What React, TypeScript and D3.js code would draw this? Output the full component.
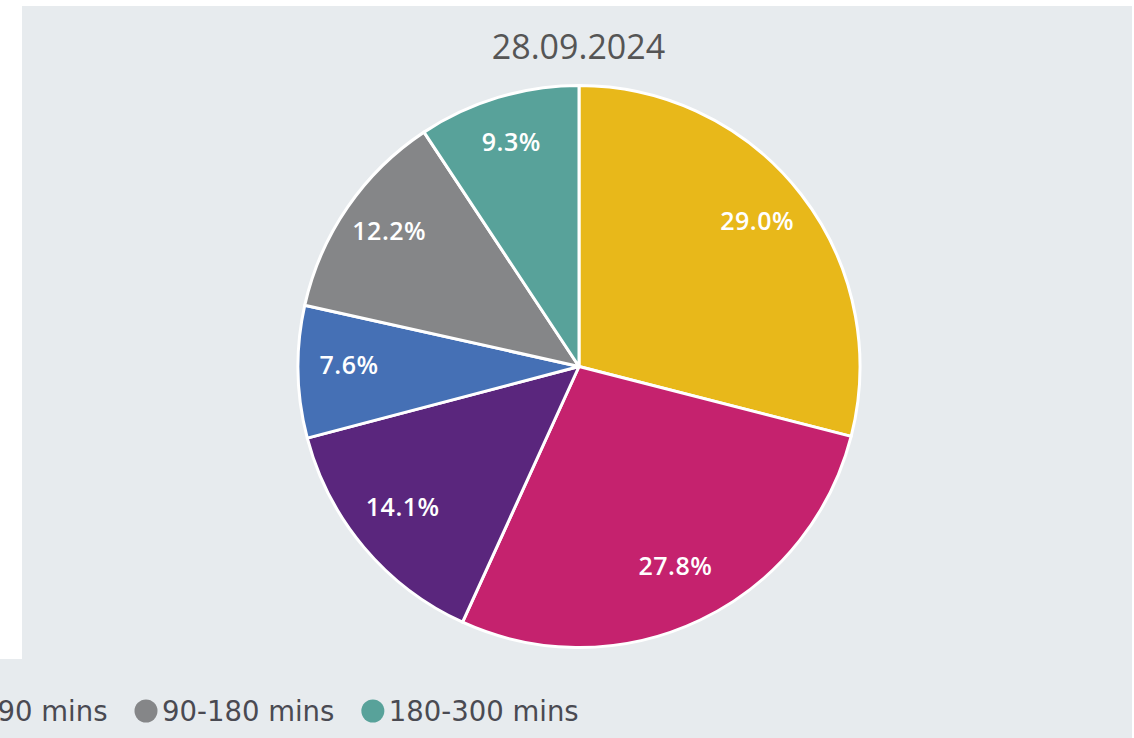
import React, { useEffect, useRef } from "react";
import * as d3 from "d3";

const title = "28.09.2024";
const categories = ["0-30 mins", "30-45 mins", "45-60 mins", "60-90 mins", "90-180 mins", "180-300 mins"];
const values = [29.0, 27.8, 14.1, 7.6, 12.2, 9.3];
const colors = ["#E8B81A", "#C5226E", "#5A267D", "#4570B5", "#858688", "#58A29A"];

const W = 1134;
const H = 738;
const BG = "#E7EBEE";

export default function App() {
  const ref = useRef<SVGSVGElement>(null);

  useEffect(() => {
    const svg = d3.select(ref.current);
    svg.selectAll("*").remove();

    svg.append("rect").attr("x", 0).attr("y", 0).attr("width", W).attr("height", H).attr("fill", "#fff");
    svg.append("rect").attr("x", 22).attr("y", 6).attr("width", 1110).attr("height", 654).attr("fill", BG);
    svg.append("rect").attr("x", 0).attr("y", 659).attr("width", 1132).attr("height", 79).attr("fill", BG);

    svg
      .append("text")
      .attr("x", 578.5)
      .attr("y", 59)
      .attr("text-anchor", "middle")
      .attr("font-family", "'Open Sans', sans-serif")
      .attr("font-size", 34)
      .attr("fill", "#555555")
      .text(title);

    const cx = 579;
    const cy = 366.5;
    const r = 281;
    const data = categories.map((c, i) => ({ name: c, value: values[i], color: colors[i] }));
    const pie = d3.pie<any>().sort(null).value((d) => d.value);
    const arcs = pie(data);
    const arc = d3.arc<any>().innerRadius(0).outerRadius(r);
    const labelArc = d3.arc<any>().innerRadius(228).outerRadius(228);

    const g = svg.append("g").attr("transform", `translate(${cx},${cy})`);
    g.selectAll("path")
      .data(arcs)
      .enter()
      .append("path")
      .attr("d", arc as any)
      .attr("fill", (d: any) => d.data.color)
      .attr("stroke", "#fff")
      .attr("stroke-width", 3)
      .attr("stroke-linejoin", "round");

    g.selectAll("text.lbl")
      .data(arcs)
      .enter()
      .append("text")
      .attr("class", "lbl")
      .attr("x", (d: any) => labelArc.centroid(d)[0] - 2)
      .attr("y", (d: any) => labelArc.centroid(d)[1] - 6)
      .attr("dy", "0.36em")
      .attr("text-anchor", "middle")
      .attr("font-family", "'Open Sans', sans-serif")
      .attr("font-weight", 600)
      .attr("font-size", 25)
      .attr("letter-spacing", 0.5)
      .attr("fill", "#fff")
      .text((d: any) => d.data.value.toFixed(1) + "%");

    // legend
    const lg = svg.append("g");
    const symR = 11.5;
    const textOff = 16;
    const gap = 27;
    const ly = 711;
    const items = data.map((d) => {
      const it = lg.append("g");
      it.append("circle").attr("cx", 0).attr("cy", ly).attr("r", symR).attr("fill", d.color);
      const t = it
        .append("text")
        .attr("x", textOff)
        .attr("y", ly + 9.5)
        .attr("font-family", "'DejaVu Sans', sans-serif")
        .attr("font-size", 27.5)
        .attr("fill", "#4a4a52")
        .text(d.name);
      const w = (t.node() as SVGTextElement).getComputedTextLength();
      return { it, w };
    });
    let x = 0;
    const pos: number[] = [];
    items.forEach((item) => {
      pos.push(x);
      x += textOff + item.w + gap + symR;
    });
    const shift = 146 - pos[4];
    items.forEach((item, i) => item.it.attr("transform", `translate(${pos[i] + shift},0)`));
  }, []);

  return (
    <div style={{ position: "absolute", left: 0, top: 0, width: W, height: H }}>
      <svg ref={ref} width={W} height={H} style={{ display: "block" }} />
    </div>
  );
}
